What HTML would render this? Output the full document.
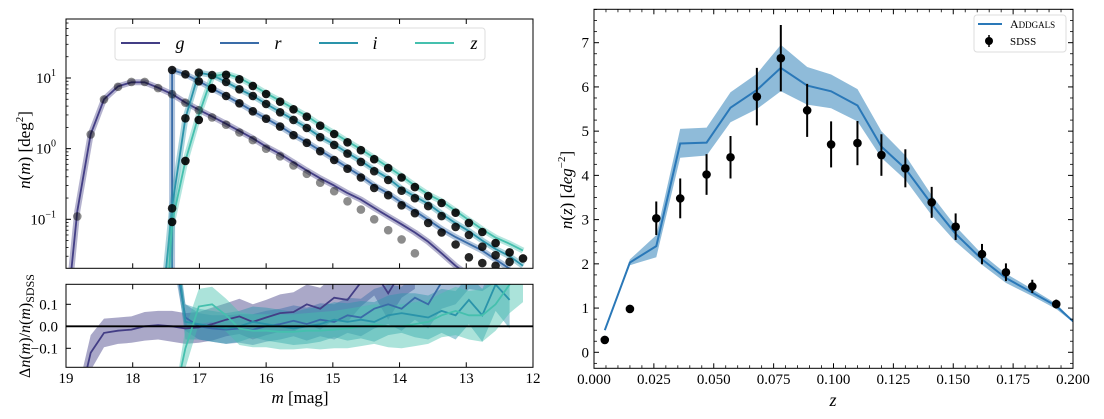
<!DOCTYPE html>
<html><head><meta charset="utf-8"><style>
html,body{margin:0;padding:0;background:#fff;width:1104px;height:419px;overflow:hidden;}
svg{display:block;font-family:"Liberation Serif",serif;overflow:hidden;}
</style></head><body>
<svg id="fig" width="1104" height="419" viewBox="0 0 1104 419" xmlns="http://www.w3.org/2000/svg">
<defs>
<clipPath id="clipTop"><rect x="66" y="19" width="467" height="249.3"/></clipPath>
<clipPath id="clipBot"><rect x="66" y="284.3" width="467" height="83"/></clipPath>
<clipPath id="clipR"><rect x="594" y="9.3" width="479" height="359"/></clipPath>
</defs>
<g id="gTop"></g>
<g id="gBot"></g>
<g id="gR"></g>
</svg>
<script>
// ---------- data: magnitude counts ----------
const mags = [18.83,18.63,18.43,18.22,18.02,17.82,17.62,17.41,17.21,17.01,16.81,16.60,16.40,16.20,16.00,15.79,15.59,15.39,15.19,14.98,14.78,14.58,14.38,14.17,13.97,13.77,13.57,13.37,13.16,12.96,12.76,12.56,12.35,12.15];
const gStart = 0, rStart = 7, iStart = 7, zStart = 7;
const gPts = [0.11,1.59,4.98,7.5,8.8,8.8,7.2,5.9,4.47,3.5,2.77,2.18,1.69,1.32,1.0,0.78,0.58,0.44,0.33,0.25,0.18,0.137,0.1,0.070,0.052,0.033];
const rPts = [12.97,11.27,8.97,7.06,5.56,4.39,3.38,2.65,2.05,1.55,1.21,0.92,0.69,0.52,0.39,0.277,0.219,0.158,0.122,0.089,0.065,0.044,0.029,0.024,0.022];
const iPts = [0.143,2.69,11.9,11.0,8.78,6.92,5.56,4.29,3.27,2.55,1.96,1.45,1.13,0.85,0.65,0.48,0.36,0.254,0.199,0.154,0.111,0.078,0.060,0.041,0.031,0.025];
const zPts = [0.092,0.67,2.55,7.21,11.1,9.59,7.7,5.94,4.62,3.61,2.83,2.11,1.61,1.23,0.95,0.71,0.53,0.39,0.286,0.214,0.170,0.124,0.089,0.066,0.046,0.034,0.028];
const gModel = [0.13,1.6,5.0,7.6,8.7,8.7,7.3,5.9,4.5,3.55,2.85,2.25,1.78,1.40,1.07,0.84,0.64,0.49,0.38,0.30,0.235,0.19,0.145,0.11,0.085,0.065,0.048,0.033,0.022,0.016];
const rModel = [13,11.3,9.0,7.1,5.6,4.4,3.4,2.67,2.07,1.57,1.23,0.94,0.71,0.54,0.41,0.30,0.232,0.172,0.131,0.098,0.073,0.056,0.045,0.036,0.027,0.020];
const iModel = [0.15,2.7,11.9,11.0,8.8,6.95,5.6,4.3,3.3,2.57,1.98,1.47,1.15,0.87,0.67,0.50,0.38,0.27,0.21,0.165,0.12,0.088,0.068,0.05,0.038,0.03,0.022];
const zModel = [0.09,0.67,3.0,10.5,11.5,10.0,7.9,6.1,4.75,3.7,2.9,2.17,1.66,1.27,0.98,0.74,0.55,0.41,0.30,0.225,0.18,0.132,0.097,0.072,0.055,0.045,0.036];
const gFoot = [18.95,0.01], rFoot = [17.41,0.001], iFoot = [17.53,0.01], zFoot = [17.47,0.01];
// residuals
const gDiff = [-0.4,-0.12,-0.03,-0.02,-0.015,0.0,0.005,0.0,-0.01,-0.005,0.01,0.03,0.045,0.02,0.04,0.06,0.065,0.1,0.08,0.13,0.12,0.2,0.25,0.15,0.25,0.3];
const gErr = [0.1,0.08,0.065,0.06,0.06,0.065,0.065,0.07,0.07,0.07,0.075,0.075,0.08,0.08,0.08,0.085,0.09,0.09,0.095,0.1,0.1,0.11,0.11,0.12,0.12,0.13];
const rDiff = [0.4,0.04,0.0,-0.01,-0.015,-0.01,-0.015,0.0,0.01,0.025,0.01,0.03,0.02,0.05,0.04,0.08,0.1,0.08,0.13,0.1,0.2,0.22,0.3,0.3,0.35];
const rErr = [0.08,0.06,0.06,0.06,0.065,0.065,0.07,0.07,0.07,0.07,0.075,0.075,0.08,0.08,0.085,0.09,0.09,0.1,0.1,0.11,0.12,0.12,0.13,0.14,0.15];
const iDiff = [0.5,0.02,0.01,0.0,-0.01,0.0,0.02,0.01,0.0,-0.01,0.0,0.01,0.03,0.02,0.03,0.02,0.05,0.06,0.05,0.04,0.07,0.05,0.12,0.05,0.19,0.12];
const iErr = [0.1,0.08,0.07,0.07,0.07,0.07,0.07,0.075,0.075,0.075,0.08,0.08,0.08,0.085,0.085,0.09,0.09,0.09,0.1,0.1,0.1,0.11,0.11,0.12,0.12,0.13];
const zDiff = [-0.6,-0.1,0.09,0.1,0.05,-0.01,-0.02,-0.02,-0.025,-0.025,-0.02,-0.02,-0.015,-0.01,0.0,0.01,0.0,0.0,0.01,0.02,0.05,0.07,0.05,0.05,0.1,0.19,0.25];
const zErr = [0.1,0.09,0.08,0.08,0.075,0.075,0.075,0.075,0.08,0.08,0.08,0.085,0.085,0.09,0.09,0.09,0.095,0.1,0.1,0.1,0.1,0.11,0.11,0.12,0.12,0.13,0.14];
// ---------- data: redshift distribution ----------
const zPtsZ = [0.0045,0.015,0.026,0.036,0.047,0.057,0.068,0.078,0.089,0.099,0.11,0.12,0.13,0.141,0.151,0.162,0.172,0.183,0.193];
const sdssN = [0.28,0.98,3.03,3.48,4.02,4.41,5.78,6.65,5.47,4.7,4.73,4.46,4.16,3.39,2.84,2.22,1.81,1.49,1.09];
const sdssErr = [0.05,0.08,0.38,0.45,0.46,0.48,0.65,0.75,0.6,0.52,0.5,0.47,0.43,0.35,0.3,0.23,0.2,0.15,0.1];
const modZ = [0.0045,0.015,0.026,0.036,0.047,0.057,0.068,0.078,0.089,0.099,0.11,0.12,0.13,0.141,0.151,0.162,0.172,0.183,0.193,0.2];
const modN = [0.5,2.03,2.4,4.72,4.74,5.53,5.93,6.43,6.03,5.9,5.58,4.65,4.15,3.35,2.68,2.1,1.68,1.35,1.05,0.7];
const modHi = [0.5,2.1,2.65,5.05,5.08,5.88,6.3,6.95,6.45,6.28,5.95,5.0,4.45,3.55,2.85,2.22,1.78,1.43,1.1,0.72];
const modLo = [0.5,1.97,2.15,4.4,4.45,5.2,5.5,5.9,5.6,5.52,5.22,4.4,3.9,3.1,2.5,1.98,1.57,1.27,0.98,0.68];
const zTicks = [0,0.025,0.05,0.075,0.1,0.125,0.15,0.175,0.2];
const zTickLabels = ["0.000","0.025","0.050","0.075","0.100","0.125","0.150","0.175","0.200"];
const nTicks = [0,1,2,3,4,5,6,7];
const magTicks = [19,18,17,16,15,14,13,12];
const resTicks = [0.1,0.0,-0.1];
const resTickLabels = ["0.1","0.0","\u22120.1"];

const NS = "http://www.w3.org/2000/svg";
function mk(tag, attrs, parent){const e=document.createElementNS(NS,tag);for(const k in attrs)e.setAttribute(k,attrs[k]);parent.appendChild(e);return e;}
const clampY = y => Math.max(0, Math.min(410, y));
const xM = m => 66 + (19 - m) * 66.71;
const yN = v => clampY(78 - (Math.log10(v) - 1) * 70.65);
const yD = d => clampY(326.3 - d * 220);
const xZ = z => 594 + z * 2395;
const yZ = n => 352.3 - n * 44.23;
const COL = {g:"#433e85", r:"#3a6ca8", i:"#2a94aa", z:"#45c0ae"};

const gTop = document.getElementById("gTop");
const gBot = document.getElementById("gBot");
const gR = document.getElementById("gR");

// ---- top panel ----
const topClip = mk("g",{"clip-path":"url(#clipTop)"},gTop);


const series = [
 {k:"g", pts:gPts, s:gStart, model:gModel, foot:gFoot, diff:gDiff, err:gErr, op:0.45},
 {k:"r", pts:rPts, s:rStart, model:rModel, foot:rFoot, diff:rDiff, err:rErr, op:0.85},
 {k:"i", pts:iPts, s:iStart, model:iModel, foot:iFoot, diff:iDiff, err:iErr, op:0.85},
 {k:"z", pts:zPts, s:zStart, model:zModel, foot:zFoot, diff:zDiff, err:zErr, op:0.9}
];
series.forEach(S=>{
  let d = "M"+xM(S.foot[0])+","+yN(S.foot[1]);
  S.model.forEach((v,j)=>{ d += " L"+xM(mags[S.s+j]).toFixed(1)+","+yN(v).toFixed(1); });
  const band = mk("path",{d:d,fill:"none",stroke:COL[S.k],"stroke-width":6,"stroke-opacity":0.4,"stroke-linejoin":"round"},topClip);
  
  
  const line = mk("path",{d:d,fill:"none",stroke:COL[S.k],"stroke-width":1.8,"stroke-linejoin":"round"},topClip);
  
  
});
series.forEach(S=>{
  S.pts.forEach((v,j)=>{
    const c = mk("circle",{cx:xM(mags[S.s+j]).toFixed(1),cy:yN(v).toFixed(1),r:4.3,fill:"#000","fill-opacity":S.op},topClip);
    
    
  });
});
const fr = mk("rect",{x:66,y:19,width:467,height:249.3,fill:"none",stroke:"#000","stroke-width":1},gTop);



function tickX(g, y0, y1){
  magTicks.forEach(m=>{
    const t1 = mk("line",{x1:xM(m),x2:xM(m),y1:y1,y2:y1-5,stroke:"#000"},g);
    
    
    const t2 = mk("line",{x1:xM(m),x2:xM(m),y1:y0,y2:y0+5,stroke:"#000"},g);
    
    
  });
}
tickX(gTop,19,268.3);
[1,0,-1].forEach((p)=>{
  const y = yN(Math.pow(10,p));
  const t = mk("line",{x1:66,x2:71,y1:y,y2:y,stroke:"#000"},gTop);
  
  
  const tx = mk("text",{x:56,y:y+5,"font-size":15,"text-anchor":"end"},gTop);
  
  
  tx.textContent = "10";
  const sup = mk("tspan",{dy:-7,"font-size":10},tx);
  sup.textContent = p<0 ? "\u22121" : String(p);
});
for(let p=-2;p<2;p++){for(let k=2;k<10;k++){const v=k*Math.pow(10,p);const y=yN(v);if(y<19||y>268)continue;
  const t=mk("line",{x1:66,x2:68.5,y1:y,y2:y,stroke:"#000","stroke-width":0.8},gTop);
  
  }}
const lg = mk("g",{},gTop);


const lgb = mk("rect",{x:115,y:28,width:370,height:32,rx:3,fill:"#fff",stroke:"#ddd"},lg);


const lgX = [121,220,319,415], lgT=[180,278,375,474], lgN=["g","r","i","z"];
lgN.forEach((k,j)=>{
  const l = mk("line",{x1:lgX[j],x2:lgX[j]+39,y1:43,y2:43,stroke:COL[k],"stroke-width":2},lg);
  
  
  const t = mk("text",{x:lgT[j],y:49,"font-size":18,"font-style":"italic","text-anchor":"middle"},lg);
  
  
  t.textContent = k;
});
const yl1 = mk("text",{transform:"translate(30,150) rotate(-90)","font-size":17,"text-anchor":"middle"},gTop);


yl1.innerHTML = '<tspan font-style="italic">n</tspan>(<tspan font-style="italic">m</tspan>) [deg<tspan dy="-7" font-size="11">2</tspan><tspan dy="7">]</tspan>';

// ---- bottom panel ----
const botClip = mk("g",{"clip-path":"url(#clipBot)"},gBot);


series.forEach(S=>{
  let up="", lo="";
  S.diff.forEach((d,j)=>{const x=xM(mags[S.s+j]).toFixed(1);up+=(j?" L":"M")+x+","+yD(d+S.err[j]).toFixed(1);});
  for(let j=S.diff.length-1;j>=0;j--){const x=xM(mags[S.s+j]).toFixed(1);lo+=" L"+x+","+yD(S.diff[j]-S.err[j]).toFixed(1);}
  const b = mk("path",{d:up+lo+" Z",fill:COL[S.k],"fill-opacity":0.45,stroke:"none"},botClip);
  
  
});
series.forEach(S=>{
  let d="";
  S.diff.forEach((v,j)=>{d+=(j?" L":"M")+xM(mags[S.s+j]).toFixed(1)+","+yD(v).toFixed(1);});
  const l = mk("path",{d:d,fill:"none",stroke:COL[S.k],"stroke-width":1.8},botClip);
  
  
});
const zl = mk("line",{x1:66,x2:533,y1:yD(0),y2:yD(0),stroke:"#000","stroke-width":1.8},gBot);


const fb = mk("rect",{x:66,y:284.3,width:467,height:83,fill:"none",stroke:"#000","stroke-width":1},gBot);


tickX(gBot,284.3,367.3);
magTicks.forEach(m=>{
  const t = mk("text",{x:xM(m),y:383,"font-size":15,"text-anchor":"middle"},gBot);
  
  
  t.textContent = String(m);
});
resTicks.forEach((v,j)=>{
  const t = mk("line",{x1:66,x2:71,y1:yD(v),y2:yD(v),stroke:"#000"},gBot);
  
  
  const tx = mk("text",{x:58,y:yD(v)+5,"font-size":15,"text-anchor":"end"},gBot);
  
  
  tx.textContent = resTickLabels[j];
});
const yl2 = mk("text",{transform:"translate(30,326) rotate(-90)","font-size":16,"text-anchor":"middle"},gBot);


yl2.innerHTML = '\u0394<tspan font-style="italic">n</tspan>(<tspan font-style="italic">m</tspan>)/<tspan font-style="italic">n</tspan>(<tspan font-style="italic">m</tspan>)<tspan dy="4" font-size="12">SDSS</tspan>';
const xl1 = mk("text",{x:300,y:403,"font-size":17,"text-anchor":"middle"},gBot);


xl1.innerHTML = '<tspan font-style="italic">m</tspan> [mag]';

// ---- right panel ----
const rClip = mk("g",{"clip-path":"url(#clipR)"},gR);


let bd="";
modZ.forEach((z,j)=>{bd+=(j?" L":"M")+xZ(z).toFixed(1)+","+yZ(modHi[j]).toFixed(1);});
for(let j=modZ.length-1;j>=0;j--){bd+=" L"+xZ(modZ[j]).toFixed(1)+","+yZ(modLo[j]).toFixed(1);}
const band = mk("path",{d:bd+" Z",fill:"#1f77b4","fill-opacity":0.5,stroke:"none"},rClip);


let ld="";
modZ.forEach((z,j)=>{ld+=(j?" L":"M")+xZ(z).toFixed(1)+","+yZ(modN[j]).toFixed(1);});
const ml = mk("path",{d:ld,fill:"none",stroke:"#2a78b8","stroke-width":2},rClip);


zPtsZ.forEach((z,j)=>{
  const e = mk("line",{x1:xZ(z),x2:xZ(z),y1:yZ(sdssN[j]-sdssErr[j]),y2:yZ(sdssN[j]+sdssErr[j]),stroke:"#000","stroke-width":2},rClip);
  
  
  const c = mk("circle",{cx:xZ(z),cy:yZ(sdssN[j]),r:4.3,fill:"#000"},rClip);
  
  
});
const frR = mk("rect",{x:594,y:9.3,width:479,height:359,fill:"none",stroke:"#000","stroke-width":1},gR);


for(let k=0;k<=40;k++){const z=k*0.005;const major=(k%5===0);const x=xZ(z);const L=major?5:3;
  const t1=mk("line",{x1:x,x2:x,y1:368.3,y2:368.3-L,stroke:"#000","stroke-width":major?1:0.8},gR);
  
  
  const t2=mk("line",{x1:x,x2:x,y1:9.3,y2:9.3+L,stroke:"#000","stroke-width":major?1:0.8},gR);
  
  }
zTicks.forEach((z,j)=>{
  const t = mk("text",{x:xZ(z),y:384,"font-size":15,"text-anchor":"middle"},gR);
  
  
  t.textContent = zTickLabels[j];
});
for(let k=-1;k<=31;k++){const n=k*0.25;const y=yZ(n);if(y<9.3||y>368.3)continue;const major=(k%4===0);const L=major?5:3;
  const t1=mk("line",{x1:594,x2:594+L,y1:y,y2:y,stroke:"#000","stroke-width":major?1:0.8},gR);
  
  
  const t2=mk("line",{x1:1073,x2:1073-L,y1:y,y2:y,stroke:"#000","stroke-width":major?1:0.8},gR);
  
  }
nTicks.forEach(n=>{
  const t = mk("text",{x:589,y:yZ(n)+5,"font-size":15,"text-anchor":"end"},gR);
  
  
  t.textContent = String(n);
});
const yl3 = mk("text",{transform:"translate(572,190) rotate(-90)","font-size":17,"text-anchor":"middle"},gR);


yl3.innerHTML = '<tspan font-style="italic">n</tspan>(<tspan font-style="italic">z</tspan>) [<tspan font-style="italic">deg</tspan><tspan dy="-7" font-size="11">\u22122</tspan><tspan dy="7">]</tspan>';
const xl2 = mk("text",{x:833,y:406,"font-size":18,"font-style":"italic","text-anchor":"middle"},gR);


xl2.textContent = "z";
const lr = mk("g",{},gR);


const lrb = mk("rect",{x:974,y:15,width:92,height:37,rx:3,fill:"#fff",stroke:"#ddd"},lr);


const lrl = mk("line",{x1:978,x2:1002,y1:24,y2:24,stroke:"#2a78b8","stroke-width":2},lr);


const lrt = mk("text",{x:1010,y:28,"font-size":12},lr);


lrt.innerHTML = 'A<tspan font-size="9">DDGALS</tspan>';
const lre = mk("line",{x1:989,x2:989,y1:35,y2:47,stroke:"#000","stroke-width":1.5},lr);


const lrc = mk("circle",{cx:989,cy:41,r:4,fill:"#000"},lr);


const lrs = mk("text",{x:1010,y:45,"font-size":11},lr);


lrs.textContent = "SDSS";
</script>
</body></html>
